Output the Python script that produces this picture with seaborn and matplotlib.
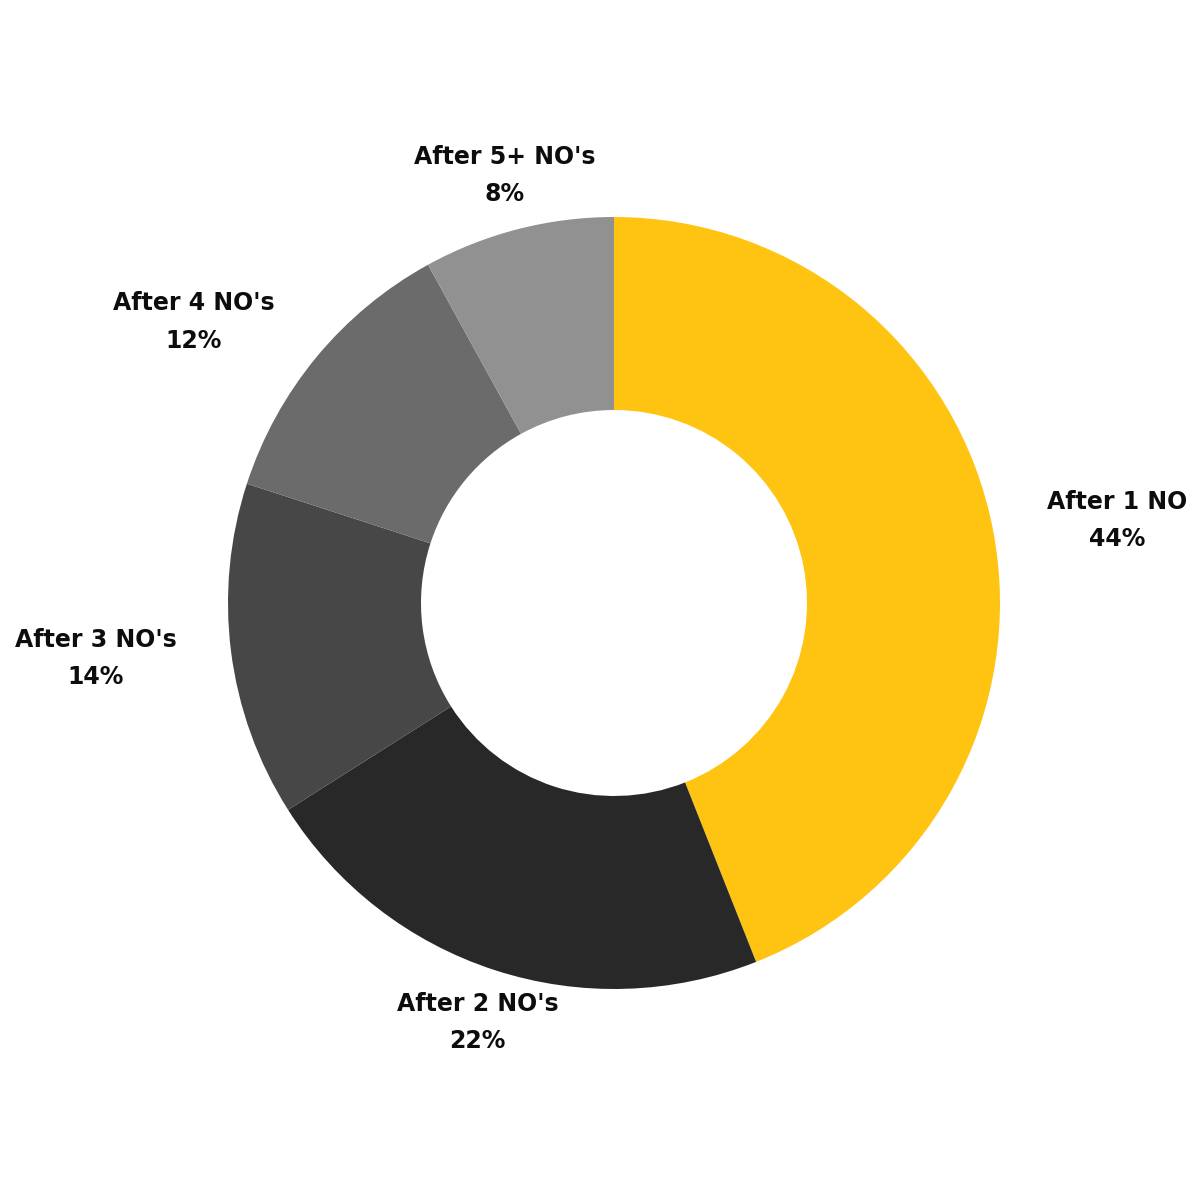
import numpy as np
import seaborn as sns
import matplotlib.pyplot as plt

sns.set_theme(style="white")
plt.rcParams['font.family'] = ['DejaVu Sans']

labels = ["After 1 NO", "After 2 NO's", "After 3 NO's", "After 4 NO's", "After 5+ NO's"]
shares = [44, 22, 14, 12, 8]
colors = ["#FFC312", "#282828", "#474747", "#6B6B6B", "#919191"]

fig = plt.figure(figsize=(12, 12), dpi=100)
ax = fig.add_axes([0, 0, 1, 1])

wedges, _ = ax.pie(shares, colors=colors, startangle=90, counterclock=False,
                   radius=1, wedgeprops=dict(width=0.5, linewidth=0))

# place labels just outside the ring
gap = 0.1425
for w, lab, val in zip(wedges, labels, shares):
    ang = np.deg2rad((w.theta1 + w.theta2) / 2)
    c, s = np.cos(ang), np.sin(ang)
    x, y = (1 + gap) * c, (1 + gap) * s
    if c > 0.5:
        ha = 'left'
    elif c < -0.5:
        ha = 'right'
    else:
        ha = 'center'
    ax.text(x, y, f"{lab}\n{val}%", ha=ha, va='center', multialignment='center',
            fontsize=17, fontweight='bold', color='#0d0d0d', linespacing=1.7)

ax.set_xlim(-614 / 386, (1200 - 614) / 386)
ax.set_ylim(-(1200 - 603) / 386, 603 / 386)
ax.set_aspect('equal')
ax.axis('off')

fig.savefig("out.png", dpi=100, facecolor='white')
